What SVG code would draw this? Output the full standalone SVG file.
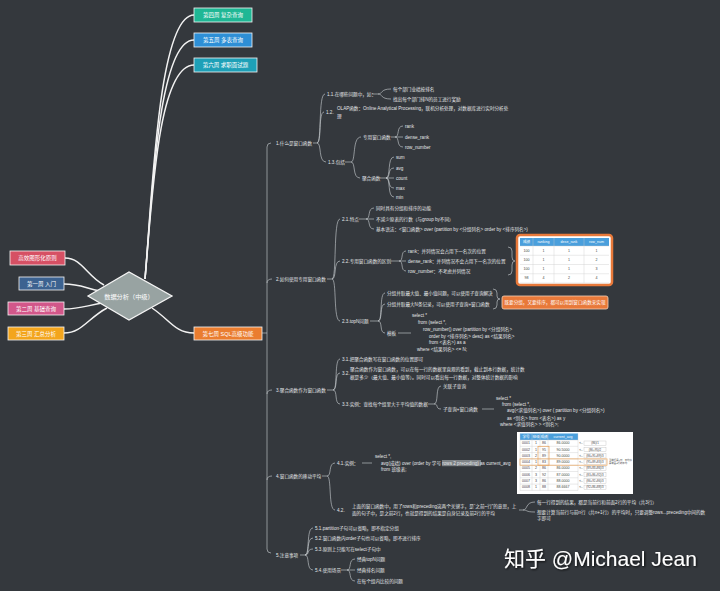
<svg xmlns="http://www.w3.org/2000/svg" width="720" height="591" viewBox="0 0 720 591">
<defs>
<style>
.t{font-family:"Liberation Sans","Noto Sans CJK SC",sans-serif;font-size:4.6px;fill:#e4e6e8;dominant-baseline:central}
.nt{font-family:"Liberation Sans","Noto Sans CJK SC",sans-serif;font-size:5.5px;fill:#fff;text-anchor:middle;dominant-baseline:central}
.tb{font-family:"Liberation Sans","Noto Sans CJK SC",sans-serif;font-size:3.6px;fill:#444;text-anchor:middle;dominant-baseline:central}
.tb2{font-family:"Liberation Sans","Noto Sans CJK SC",sans-serif;font-size:2.9px;fill:#444;text-anchor:middle;dominant-baseline:central}
.th{fill:#fff}
.ln{fill:none;stroke:#cfd3d6;stroke-width:0.6}
.mc{fill:none;stroke:#f2f2f2;stroke-width:1.5}
.box{stroke:#f4f4f4;stroke-width:0.8}
.grid{stroke:#c9c9c9;stroke-width:0.4}
</style>
<filter id="sh" x="-10%" y="-30%" width="120%" height="160%"><feDropShadow dx="1" dy="1" stdDeviation="0.8" flood-color="#000" flood-opacity="0.8"/></filter>
</defs>
<rect width="720" height="591" fill="#34383d"/>

<g id="connectors">
<path class="mc" d="M145,279 C152,200 158,15 194,15"/>
<path class="mc" d="M145,279 C152,200 158,40 194,40"/>
<path class="mc" d="M145,279 C152,200 158,65 194,65"/>
<path class="mc" d="M104,285 C86,275 82,258 65,258"/>
<path class="mc" d="M100,291 C85,288 80,284 64,284"/>
<path class="mc" d="M102,303 C85,306 80,309 64,309"/>
<path class="mc" d="M107,308 C88,318 82,333 64,333"/>
<path class="mc" d="M152,308 C170,320 175,333 194,333"/>
<!-- spine -->
<path class="ln" d="M262,333 H267 M271,143 Q267,143 267,147 V549 Q267,553 271,553 M267,283 Q267,279 272,279 M267,394 Q267,390 272,390 M267,480 Q267,476 272,476"/>
<!-- section 1 -->
<path class="ln" d="M313,143 H317 M317,143 C322,143 318,94 325,94 M317,143 C322,143 318,112 324,112 M317,143 C322,143 318,162 326,162"/>
<path class="ln" d="M372,94 H378 M378,94 C383,94 380,89 391,89 M378,94 C383,94 380,99 391,99"/>
<path class="ln" d="M345,162 H351 M351,162 C356,162 352,137 361,137 M351,162 C356,162 352,178 360,178"/>
<path class="ln" d="M391,137 H395 M395,137 C400,137 396,126 403,126 M395,137 H403 M395,137 C400,137 396,147 403,147"/>
<path class="ln" d="M380,178 H386 M386,178 C391,178 387,157 394,157 M386,178 C391,178 387,168 394,168 M386,178 H394 M386,178 C391,178 387,188 394,188 M386,178 C391,178 387,197 394,197"/>
<!-- section 2 -->
<path class="ln" d="M327,279 H332 M332,279 C337,279 333,219 340,219 M332,279 C337,279 333,261 340,261 M332,279 C337,279 333,321 340,321"/>
<path class="ln" d="M359,219 H366 M366,219 C371,219 367,208 374,208 M366,219 H374 M366,219 C371,219 367,229 374,229"/>
<path class="ln" d="M391,261 H399 M399,261 C404,261 400,251 406,251 M399,261 H406 M399,261 C404,261 400,271 406,271"/>
<path class="ln" d="M508,247 Q512,247 512,251 V257 Q512,261 515,261 Q512,261 512,265 V271 Q512,275 508,275"/>
<path class="ln" d="M370,321 H378 M378,321 C383,321 379,293 385,293 M378,321 C383,321 379,304 385,304 M378,321 C383,321 379,333 385,333"/>
<path class="ln" d="M493,289 Q497,289 497,293 V296 Q497,299 500,299 Q497,299 497,302 V305 Q497,309 493,309"/>
<path class="ln" d="M398,333 H411"/>
<!-- section 3 -->
<path class="ln" d="M327,390 H333 M333,390 C338,390 334,359 340,359 M333,390 C338,390 334,373 340,373 M333,390 C338,390 334,404 340,404"/>
<path class="ln" d="M428,404 H434 M434,404 C439,404 435,386 441,386 M434,404 C439,404 435,409 441,409"/>
<path class="ln" d="M482,409 H494"/>
<!-- section 4 -->
<path class="ln" d="M322,476 H327 M327,476 C332,476 328,463 335,463 M327,476 C332,476 328,510 335,510"/>
<path class="ln" d="M362,463 H372"/>
<path class="ln" d="M519,510 H523 M523,510 C528,510 525,502 535,502 M523,510 C528,510 525,512 535,512"/>
<!-- section 5 -->
<path class="ln" d="M300,555 H305 M305,555 C310,555 306,528 313,528 M305,555 C310,555 306,538 313,538 M305,555 C310,555 306,549 313,549 M305,555 C310,555 306,570 313,570"/>
<path class="ln" d="M341,570 H347 M347,570 C352,570 348,559 355,559 M347,570 H355 M347,570 C352,570 348,581 355,581"/>
</g>

<g id="center">
<polygon points="88,296 129,272 172,296 129,320" fill="#98a3a2" stroke="#f4f4f4" stroke-width="1.3"/>
<text class="nt" x="129" y="296" style="font-size:6.2px">数据分析（中级）</text>
</g>

<g id="n-yuanze"><rect class="box" x="10" y="251" width="55" height="14" fill="#d65064"/><text class="nt" x="37.5" y="258">高效图形化原则</text></g>
<g id="n-w1"><rect class="box" x="19" y="277" width="45" height="13" fill="#3c6290"/><text class="nt" x="41.5" y="283.5">第一周 入门</text></g>
<g id="n-w2"><rect class="box" x="8" y="302" width="56" height="13" fill="#d2578a"/><text class="nt" x="36" y="308.5">第二周 基础查询</text></g>
<g id="n-w3"><rect class="box" x="8" y="327" width="56" height="13" fill="#f3a51d"/><text class="nt" x="36" y="333.5">第三周 汇总分析</text></g>
<g id="n-w4"><rect class="box" x="194" y="8" width="58" height="14" fill="#1fb795"/><text class="nt" x="223" y="15">第四周 复杂查询</text></g>
<g id="n-w5"><rect class="box" x="194" y="33" width="58" height="14" fill="#2e8fd6"/><text class="nt" x="223" y="40">第五周 多表查询</text></g>
<g id="n-w6"><rect class="box" x="194" y="58" width="63" height="14" fill="#1ea0b7"/><text class="nt" x="225.5" y="65">第六周 求职面试题</text></g>
<g id="n-w7"><rect class="box" x="194" y="327" width="68" height="13" fill="#ea7d2f"/><text class="nt" x="228" y="333.5">第七周 SQL高级功能</text></g>

<g id="sec1">
<text class="t" x="276" y="143">1.什么是窗口函数</text>
<text class="t" x="327" y="94">1.1.在哪些问题中，如：</text>
<text class="t" x="393" y="89">每个部门业绩按排名</text>
<text class="t" x="393" y="99">找出每个部门排N的员工进行奖励</text>
<text class="t" x="326" y="112">1.2.</text>
<text class="t" x="337" y="108">OLAP函数：Online Analytical Processing，联机分析处理，对数据库进行实时分析处</text>
<text class="t" x="337" y="116">理</text>
<text class="t" x="328" y="162">1.3.包括</text>
<text class="t" x="363" y="137">专用窗口函数</text>
<text class="t" x="405" y="126">rank</text>
<text class="t" x="405" y="137">dense_rank</text>
<text class="t" x="405" y="147">row_number</text>
<text class="t" x="362" y="178">聚合函数</text>
<text class="t" x="396" y="157">sum</text>
<text class="t" x="396" y="168">avg</text>
<text class="t" x="396" y="178">count</text>
<text class="t" x="396" y="188">max</text>
<text class="t" x="396" y="197">min</text>
</g>

<g id="sec2">
<text class="t" x="276" y="279">2.如何使用专用窗口函数</text>
<text class="t" x="342" y="219">2.1.特点</text>
<text class="t" x="376" y="208">同时具有分组和排序的功能</text>
<text class="t" x="376" y="219">不减少原表的行数（与group by不同）</text>
<text class="t" x="376" y="229">基本语法：&lt;窗口函数&gt; over (partition by &lt;分组列名&gt; order by &lt;排序列名&gt;)</text>
<text class="t" x="342" y="261">2.2.专用窗口函数的区别</text>
<text class="t" x="408" y="251">rank：并列情况会占用下一名次的位置</text>
<text class="t" x="408" y="261">dense_rank：并列情况不会占用下一名次的位置</text>
<text class="t" x="408" y="271">row_number：不考虑并列情况</text>
<g id="rank-table">
<rect x="517" y="235" width="95" height="50" rx="3" fill="#fff" stroke="#e8793a" stroke-width="2.5"/>
<rect x="520" y="238" width="89" height="8" fill="#4a9fdc"/>
<path class="grid" d="M520,255.25 H609 M520,264.5 H609 M520,273.75 H609 M533,238 V283 M554,238 V283 M584,238 V283 M520,246 H609 M520,283 H609"/>
<text class="tb th" x="526.5" y="242">成绩</text><text class="tb th" x="543.5" y="242">ranking</text><text class="tb th" x="569" y="242">dese_rank</text><text class="tb th" x="596.5" y="242">row_num</text>
<text class="tb" x="526.5" y="250.6">100</text><text class="tb" x="543.5" y="250.6">1</text><text class="tb" x="569" y="250.6">1</text><text class="tb" x="596.5" y="250.6">1</text>
<text class="tb" x="526.5" y="259.9">100</text><text class="tb" x="543.5" y="259.9">1</text><text class="tb" x="569" y="259.9">1</text><text class="tb" x="596.5" y="259.9">2</text>
<text class="tb" x="526.5" y="269.1">100</text><text class="tb" x="543.5" y="269.1">1</text><text class="tb" x="569" y="269.1">1</text><text class="tb" x="596.5" y="269.1">3</text>
<text class="tb" x="526.5" y="278.4">98</text><text class="tb" x="543.5" y="278.4">4</text><text class="tb" x="569" y="278.4">2</text><text class="tb" x="596.5" y="278.4">4</text>
</g>
<text class="t" x="342" y="321">2.3.topN问题</text>
<text class="t" x="387" y="293">分组并取最大值、最小值问题，可以使用子查询解决</text>
<text class="t" x="387" y="304">分组并取最大N条记录，可以使用子查询+窗口函数</text>
<rect x="502" y="296" width="106" height="13" rx="2" fill="#e8793a" stroke="#f6d2b8" stroke-width="0.8"/>
<text class="t" x="555" y="302.5" style="text-anchor:middle;fill:#fff">既要分组，又要排序，都可以用到窗口函数来实现</text>
<text class="t" x="387" y="333">模板</text>
<text class="t" x="412" y="315">select *</text>
<text class="t" x="418" y="322">from (select *,</text>
<text class="t" x="423" y="329">row_number() over (partition by &lt;分组列名&gt;</text>
<text class="t" x="429" y="336">order by &lt;排序列名&gt; desc) as &lt;结果列名&gt;</text>
<text class="t" x="429" y="342">from &lt;表名&gt;) as a</text>
<text class="t" x="417" y="349">where &lt;结果列名&gt; &lt;= N;</text>
</g>

<g id="sec3">
<text class="t" x="276" y="390">3.聚合函数作为窗口函数</text>
<text class="t" x="342" y="359">3.1.把聚合函数写在窗口函数的位置即可</text>
<text class="t" x="342" y="373">3.2.</text>
<text class="t" x="350" y="369">聚合函数作为窗口函数，可以在每一行的数据里直观的看到，截止到本行数据，统计数</text>
<text class="t" x="350" y="377">据是多少（最大值、最小值等）。同时可以看出每一行数据，对整体统计数据的影响</text>
<text class="t" x="342" y="404">3.3.实例：查找每个组里大于平均值的数据</text>
<text class="t" x="443" y="386">关联子查询</text>
<text class="t" x="443" y="409">子查询+窗口函数</text>
<text class="t" x="496" y="398">select *</text>
<text class="t" x="502" y="404">from (select *,</text>
<text class="t" x="507" y="410">avg(&lt;求值列名&gt;) over ( partition by &lt;分组列名&gt;)</text>
<text class="t" x="507" y="418">as &lt;别名&gt; from &lt;表名&gt;) as y</text>
<text class="t" x="500" y="424">where &lt;求值列名&gt; &gt; &lt;别名&gt;;</text>
</g>

<g id="sec4">
<text class="t" x="276" y="476">4.窗口函数的移动平均</text>
<text class="t" x="337" y="463">4.1.实例：</text>
<rect x="442" y="460" width="39" height="6.2" fill="#7e8387"/>
<text class="t" x="375" y="456">select *,</text>
<text class="t" x="381" y="463">avg(成绩) over (order by 学号 rows 2 preceding) as current_avg</text>
<text class="t" x="381" y="469">from 班级表;</text>
<g id="avg-table">
<rect x="517" y="432" width="116" height="62" fill="#fff"/>
<rect x="520" y="433.5" width="58" height="6.5" fill="#4a9fdc"/>
<path class="grid" d="M520,440 H578 M520,446.3 H578 M520,452.6 H578 M520,458.9 H578 M520,465.2 H578 M520,471.5 H578 M520,477.8 H578 M520,484.1 H578 M520,490.4 H578 M520,433.5 V490.4 M532,433.5 V490.4 M540,433.5 V490.4 M548,433.5 V490.4 M578,433.5 V490.4"/>
<text class="tb th" x="526" y="436.8">学号</text><text class="tb th" x="536" y="436.8">班级</text><text class="tb th" x="544" y="436.8">成绩</text><text class="tb th" x="563" y="436.8">current_avg</text>
<g class="rows">
<text class="tb" x="526" y="443.2">0001</text><text class="tb" x="536" y="443.2">1</text><text class="tb" x="544" y="443.2">86</text><text class="tb" x="563" y="443.2">86.0000</text>
<text class="tb" x="526" y="449.5">0002</text><text class="tb" x="536" y="449.5">1</text><text class="tb" x="544" y="449.5">95</text><text class="tb" x="563" y="449.5">90.5000</text>
<text class="tb" x="526" y="455.8">0003</text><text class="tb" x="536" y="455.8">2</text><text class="tb" x="544" y="455.8">89</text><text class="tb" x="563" y="455.8">90.0000</text>
<text class="tb" x="526" y="462.1">0004</text><text class="tb" x="536" y="462.1">1</text><text class="tb" x="544" y="462.1">83</text><text class="tb" x="563" y="462.1">89.0000</text>
<text class="tb" x="526" y="468.4">0005</text><text class="tb" x="536" y="468.4">2</text><text class="tb" x="544" y="468.4">86</text><text class="tb" x="563" y="468.4">86.0000</text>
<text class="tb" x="526" y="474.7">0006</text><text class="tb" x="536" y="474.7">3</text><text class="tb" x="544" y="474.7">92</text><text class="tb" x="563" y="474.7">87.0000</text>
<text class="tb" x="526" y="481">0007</text><text class="tb" x="536" y="481">3</text><text class="tb" x="544" y="481">86</text><text class="tb" x="563" y="481">88.0000</text>
<text class="tb" x="526" y="487.3">0008</text><text class="tb" x="536" y="487.3">1</text><text class="tb" x="544" y="487.3">88</text><text class="tb" x="563" y="487.3">88.6667</text>
</g>
<g fill="#fff" stroke="#aaa" stroke-width="0.3">
<rect x="584" y="441" width="22" height="4.4"/><rect x="584" y="447.3" width="22" height="4.4"/><rect x="584" y="453.6" width="22" height="4.4"/><rect x="584" y="459.9" width="22" height="4.4"/><rect x="584" y="466.2" width="22" height="4.4"/><rect x="584" y="472.5" width="22" height="4.4"/><rect x="584" y="478.8" width="22" height="4.4"/><rect x="584" y="485.1" width="22" height="4.4"/>
</g>
<text class="tb2" x="581" y="443.2">&lt;--</text><text class="tb2" x="595" y="443.2">(86)/1</text>
<text class="tb2" x="581" y="449.5">&lt;--</text><text class="tb2" x="595" y="449.5">(86+95)/2</text>
<text class="tb2" x="581" y="455.8">&lt;--</text><text class="tb2" x="595" y="455.8">(86+95+89)/3</text>
<text class="tb2" x="581" y="462.1">&lt;--</text><text class="tb2" x="595" y="462.1">(95+89+83)/3</text>
<text class="tb2" x="581" y="468.4">&lt;--</text><text class="tb2" x="595" y="468.4">(89+83+86)/3</text>
<text class="tb2" x="581" y="474.7">&lt;--</text><text class="tb2" x="595" y="474.7">(83+86+92)/3</text>
<text class="tb2" x="581" y="481">&lt;--</text><text class="tb2" x="595" y="481">(86+92+86)/3</text>
<text class="tb2" x="581" y="487.3">&lt;--</text><text class="tb2" x="595" y="487.3">(92+86+88)/3</text>
<text class="tb2" x="609" y="460" style="text-anchor:start;font-size:2.4px">当前行是4时，平均值</text>
<text class="tb2" x="609" y="463.5" style="text-anchor:start;font-size:2.4px">是前面3行的平均</text>
<rect x="538" y="446.3" width="11" height="18.9" fill="none" stroke="#e8a25a" stroke-width="0.7"/>
<rect x="520" y="458.9" width="87" height="6.3" fill="none" stroke="#e8a25a" stroke-width="0.7"/>
</g>
<text class="t" x="337" y="510">4.2.</text>
<text class="t" x="352" y="506">上面的窗口函数中，用了rows和preceding这两个关键字，是“之前~行”的意思，上</text>
<text class="t" x="352" y="513">面的句子中，是之前2行，也就是得到的结果是自身记录及前2行的平均</text>
<text class="t" x="537" y="502">每一行得到的结果，都是当前行和前面2行的平均（共3行）</text>
<text class="t" x="537" y="512">想要计算当前行与前n行（共n+1行）的平均时，只要调整rows...preceding中间的数</text>
<text class="t" x="537" y="518">字即可</text>
</g>

<g id="sec5">
<text class="t" x="276" y="555">5.注意事项</text>
<text class="t" x="315" y="528">5.1.partition子句可以省略，即不指定分组</text>
<text class="t" x="315" y="538">5.2.窗口函数内order子句也可以省略，即不进行排序</text>
<text class="t" x="315" y="549">5.3.原则上只能写在select子句中</text>
<text class="t" x="315" y="570">5.4.使用场景</text>
<text class="t" x="357" y="559">经典topN问题</text>
<text class="t" x="357" y="570">经典排名问题</text>
<text class="t" x="357" y="581">在每个组内比较的问题</text>
</g>

<text x="504" y="566" filter="url(#sh)" style="font-family:'Liberation Sans','Noto Sans CJK SC',sans-serif;font-size:21px;fill:#fff">知乎 @Michael Jean</text>
</svg>
